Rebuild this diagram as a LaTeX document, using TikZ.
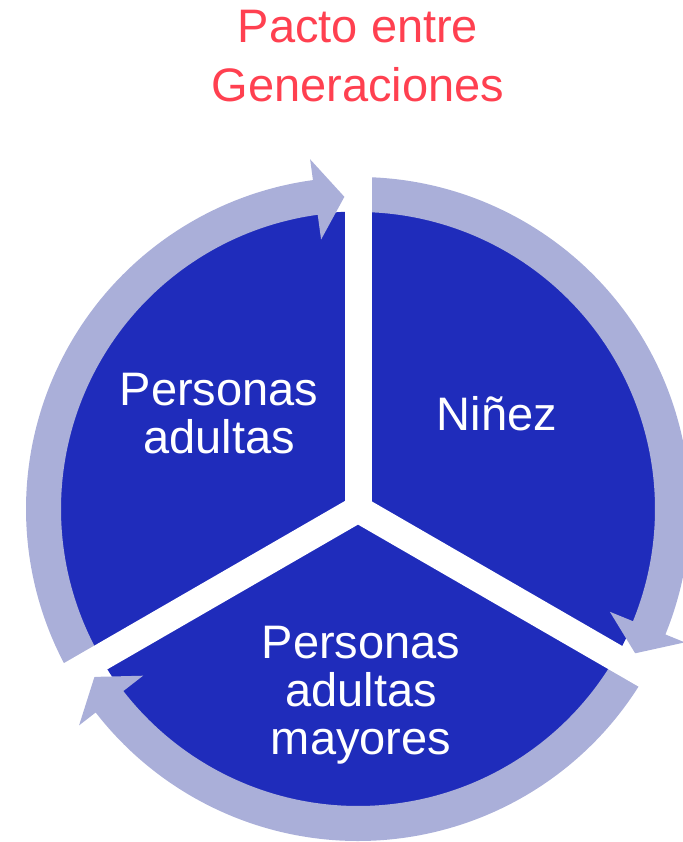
\documentclass[tikz,border=0pt]{standalone}
\usepackage{fontspec}
\setmainfont{Liberation Sans}
\definecolor{pieblue}{HTML}{1F2CBB}
\definecolor{ringblue}{HTML}{AAAFD9}
\definecolor{titlered}{HTML}{FF4050}
\tikzset{
  segtext/.style={text=white, align=center, inner sep=0pt, anchor=base,
    font=\fontsize{47}{48}\selectfont},
  titletext/.style={text=titlered, align=center, inner sep=0pt, anchor=base,
    font=\fontsize{47}{59}\selectfont},
  ringarrow/.style={fill=ringblue, draw=none},
  gapbar/.style={draw=white, line width=27pt}
}
\newcommand{\cyclearrow}[3]{% start angle, head-base angle, tip angle
  \fill[ringblue] ($(C)+(#1:332)$) arc[start angle=#1, end angle=#2, radius=332]
    -- ($(C)+(#2:353)$) -- ($(C)+(#3:312.5)$) -- ($(C)+(#2:272)$)
    -- ($(C)+(#2:297)$) arc[start angle=#2, end angle=#1, radius=297] -- cycle;
}
\usetikzlibrary{calc}
\begin{document}
\begin{tikzpicture}[x=1pt,y=1pt]
\useasboundingbox (0,0) rectangle (682,-842);
\coordinate (C) at (358,-509);
% pie
\fill[pieblue] (C) circle[radius=297.5];
% ring arrows
\cyclearrow{90}{-22.2}{-27.5}
\cyclearrow{-30}{-142.2}{-147.5}
\cyclearrow{210}{97.8}{92.5}
% gaps
\coordinate (g1) at ($(C)+(90:345)$);
\coordinate (g2) at ($(C)+(-30:345)$);
\coordinate (g3) at ($(C)+(210:345)$);
\draw[gapbar] (C) -- (g1);
\draw[gapbar] (C) -- (g2);
\draw[gapbar] (C) -- (g3);
% texts (anchor=base is the baseline of the last line)
\node[titletext] (title) at (358,-102) {Pacto entre\\Generaciones};
\node[segtext] (ninez) at (497,-430) {Niñez};
\node[segtext] (adultas) at (219,-453) {Personas\\adultas};
\node[segtext] (mayores) at (361,-754) {Personas\\adultas\\mayores};
\end{tikzpicture}
\end{document}
